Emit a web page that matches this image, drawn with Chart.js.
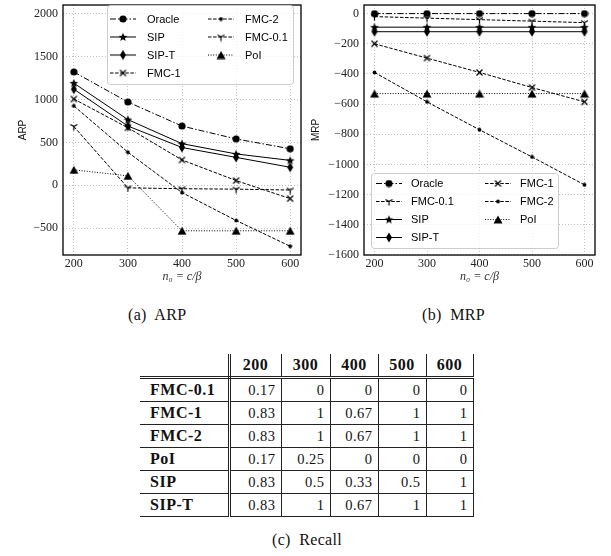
<!DOCTYPE html>
<html>
<head>
<meta charset="utf-8">
<script src="https://cdn.jsdelivr.net/npm/chart.js@4.4.1/dist/chart.umd.min.js"></script>
<style>
  body { margin: 0; background: #fff; width: 611px; height: 556px; position: relative; overflow: hidden; }
  .wrap { position: absolute; top: 0; height: 285px; }
  #wrapA { left: 0; width: 306px; }
  #wrapB { left: 300px; width: 300px; }
  .cap { position: absolute; font: 16px "Liberation Serif", serif; color: #111; white-space: pre; letter-spacing: 0.3px; }
  #recall { position: absolute; left: 140px; top: 354px; border-collapse: collapse; font-family: "Liberation Serif", serif; color: #111; }
  #recall th { font-size: 16px; font-weight: bold; text-align: center; height: 22px; padding: 0; letter-spacing: 0.5px;
               border-right: 1px solid #222; border-bottom: 3px double #222; }
  #recall td { font-size: 14.5px; text-align: right; height: 22px; padding: 0 5px 0 0; letter-spacing: 0.5px;
               border-right: 1px solid #222; border-bottom: 1px solid #222; }
  #recall td.name { font-size: 16px; font-weight: bold; text-align: left; padding-left: 10px; }
  #recall .first { border-right: 3px double #222; }
</style>
</head>
<body>
<div class="wrap" id="wrapA"><canvas id="arpChart"></canvas></div>
<div class="wrap" id="wrapB"><canvas id="mrpChart"></canvas></div>
<div class="cap" style="left:128px; top:306px;">(a)  ARP</div>
<div class="cap" style="left:422px; top:306px;">(b)  MRP</div>
<table id="recall"></table>
<div class="cap" style="left:272px; top:531px;">(c)  Recall</div>
<script>
// n0 = c / beta
const nValues = [200, 300, 400, 500, 600];

// ARP
const arpOracle = [1320, 970, 690, 540, 425];
const arpSip = [1190, 765, 485, 365, 290];
const arpSipT = [1120, 690, 440, 325, 210];
const arpFmc1 = [1005, 670, 295, 55, -155];
const arpFmc2 = [925, 385, -85, -410, -710];
const arpFmc01 = [685, -30, -40, -45, -55];
const arpPoi = [180, 110, -530, -530, -530];
const arpTicks = [-500, 0, 500, 1000, 1500, 2000];

// MRP
const mrpOracle = [0, 0, 0, 0, 0];
const mrpFmc01 = [-20, -30, -40, -50, -60];
const mrpSip = [-90, -90, -90, -90, -90];
const mrpSipT = [-120, -120, -120, -120, -120];
const mrpFmc1 = [-200, -295, -390, -490, -585];
const mrpFmc2 = [-390, -585, -770, -950, -1135];
const mrpPoi = [-530, -530, -530, -530, -530];
const mrpTicks = [-1600, -1400, -1200, -1000, -800, -600, -400, -200, 0];

// recall table
const recallCols = ['200', '300', '400', '500', '600'];
const recallRows = ['FMC-0.1', 'FMC-1', 'FMC-2', 'PoI', 'SIP', 'SIP-T'];
const recallValues = [
  [0.17, 0, 0, 0, 0],
  [0.83, 1, 0.67, 1, 1],
  [0.83, 1, 0.67, 1, 1],
  [0.17, 0.25, 0, 0, 0],
  [0.83, 0.5, 0.33, 0.5, 1],
  [0.83, 1, 0.67, 1, 1],
];

// marker images (matplotlib style)
function mk(w, h, draw) {
  const c = document.createElement('canvas');
  c.width = w; c.height = h;
  const g = c.getContext('2d');
  g.fillStyle = '#000'; g.strokeStyle = '#000'; g.lineWidth = 1;
  draw(g, w / 2, h / 2);
  return c;
}
const mCircle = mk(8, 8, (g, cx, cy) => { g.beginPath(); g.arc(cx, cy, 3.6, 0, Math.PI * 2); g.fill(); });
const mStar = mk(10, 10, (g, cx, cy) => {
  g.beginPath();
  for (let i = 0; i < 10; i++) {
    const r = i % 2 ? 2 : 4.6, a = -Math.PI / 2 + i * Math.PI / 5;
    g.lineTo(cx + r * Math.cos(a), cy + 0.3 + r * Math.sin(a));
  }
  g.closePath(); g.fill();
});
const mDiamond = mk(8, 11, (g, cx, cy) => {
  g.beginPath(); g.moveTo(cx, 0.5); g.lineTo(7, cy); g.lineTo(cx, 10.5); g.lineTo(1, cy); g.closePath(); g.fill();
});
const mX = mk(9, 9, (g) => {
  g.lineWidth = 1.2; g.beginPath(); g.moveTo(1.5, 1.5); g.lineTo(7.5, 7.5); g.moveTo(7.5, 1.5); g.lineTo(1.5, 7.5); g.stroke();
});
const mDot = mk(5, 5, (g, cx, cy) => { g.beginPath(); g.arc(cx, cy, 1.9, 0, Math.PI * 2); g.fill(); });
const mTri1 = mk(9, 9, (g, cx, cy) => {
  g.lineWidth = 1.2;
  g.beginPath(); g.moveTo(cx, cy); g.lineTo(cx, cy + 4); g.moveTo(cx, cy); g.lineTo(cx - 3.5, cy - 2);
  g.moveTo(cx, cy); g.lineTo(cx + 3.5, cy - 2); g.stroke();
});
const mTriangle = mk(10, 9, (g) => {
  g.beginPath(); g.moveTo(5, 0.5); g.lineTo(9.5, 8.5); g.lineTo(0.5, 8.5); g.closePath(); g.fill();
});

const styles = {
  'Oracle':  { pointStyle: mCircle, borderDash: [6, 2, 1.5, 2] },
  'SIP':     { pointStyle: mStar, borderDash: [] },
  'SIP-T':   { pointStyle: mDiamond, borderDash: [] },
  'FMC-1':   { pointStyle: mX, borderDash: [3.5, 1.6] },
  'FMC-2':   { pointStyle: mDot, borderDash: [3.5, 1.6] },
  'FMC-0.1': { pointStyle: mTri1, borderDash: [3.5, 1.6] },
  'PoI':     { pointStyle: mTriangle, borderDash: [1, 1.6] },
};

function series(label, ys) {
  return Object.assign({
    label: label,
    data: nValues.map((x, i) => ({ x: x, y: ys[i] })),
    borderColor: '#000',
    backgroundColor: '#000',
    borderWidth: 1,
    tension: 0,
  }, styles[label]);
}

function minus(v) { return v < 0 ? '\u2212' + Math.abs(v) : String(v); }

// frame + box legend drawn inside the plot, two columns like matplotlib
const boxLegend = {
  id: 'boxLegend',
  afterDatasetsDraw(chart) {
    const a = chart.chartArea, ctx = chart.ctx;
    ctx.save();
    ctx.strokeStyle = '#000';
    ctx.lineWidth = 1.3;
    ctx.strokeRect(a.left, a.top, a.right - a.left, a.bottom - a.top);
    ctx.restore();
  },
  afterDraw(chart, args, opts) {
    const ctx = chart.ctx;
    const b = opts.box;
    ctx.save();
    ctx.beginPath();
    ctx.roundRect(b.x + 0.5, b.y + 0.5, b.w, b.h, 3);
    ctx.fillStyle = 'rgba(255,255,255,0.8)';
    ctx.fill();
    ctx.strokeStyle = '#cccccc';
    ctx.lineWidth = 1;
    ctx.stroke();
    opts.items.forEach((label, k) => {
      const ds = chart.data.datasets.find(d => d.label === label);
      const col = Math.floor(k / opts.rows), row = k % opts.rows;
      const hx = opts.cols[col], y = opts.y0 + row * opts.dy;
      ctx.beginPath();
      ctx.setLineDash(ds.borderDash);
      ctx.lineWidth = 1;
      ctx.strokeStyle = '#000';
      ctx.moveTo(hx, y);
      ctx.lineTo(hx + opts.hw, y);
      ctx.stroke();
      ctx.setLineDash([]);
      Chart.helpers.drawPoint(ctx, { pointStyle: ds.pointStyle, radius: 3, rotation: 0, borderWidth: 0 }, hx + opts.hw / 2, y);
      ctx.fillStyle = '#000';
      ctx.font = '11px "Liberation Sans"';
      ctx.textBaseline = 'middle';
      ctx.fillText(label, hx + opts.tx, y + 0.5);
    });
    ctx.restore();
  }
};

function makeConfig(datasets, yMin, yMax, yTicks, yTitle, yWidth, padLeft, legend) {
  return {
    type: 'line',
    data: { datasets: datasets },
    plugins: [boxLegend],
    options: {
      responsive: true,
      maintainAspectRatio: false,
      animation: false,
      events: [],
      layout: { padding: { left: padLeft, top: 2, right: 4, bottom: 0 } },
      plugins: { legend: { display: false }, tooltip: { enabled: false }, boxLegend: legend },
      scales: {
        x: {
          type: 'linear', min: 180, max: 620,
          afterBuildTicks: s => { s.ticks = nValues.map(v => ({ value: v })); },
          afterFit: s => { s.height = 30; s.paddingLeft = 0; s.paddingRight = 0; },
          grid: { color: '#b0b0b0', lineWidth: 0.8, drawTicks: false },
          border: { display: false, dash: [1, 2] },
          ticks: { padding: 2, color: '#222', font: { family: 'Liberation Serif', size: 12 } },
          title: { display: true, text: 'n\u2080 = c/\u03b2', color: '#333', padding: { top: 0, bottom: 1 },
                   font: { family: 'Liberation Serif', size: 12, style: 'italic' } },
        },
        y: {
          min: yMin, max: yMax,
          afterBuildTicks: s => { s.ticks = yTicks.map(v => ({ value: v })); },
          afterFit: s => { s.width = yWidth; s.paddingTop = 0; s.paddingBottom = 0; },
          grid: { color: '#b0b0b0', lineWidth: 0.8, drawTicks: false },
          border: { display: false, dash: [1, 2] },
          ticks: { padding: 5, color: '#222', font: { family: 'Liberation Serif', size: 12 }, callback: v => minus(v) },
          title: { display: true, text: yTitle, color: '#111', padding: { top: 4, bottom: 4 },
                   font: { family: 'Liberation Sans', size: 10 } },
        },
      },
    },
  };
}

new Chart(document.getElementById('arpChart'), makeConfig(
  [series('Oracle', arpOracle), series('SIP', arpSip), series('SIP-T', arpSipT), series('FMC-1', arpFmc1),
   series('FMC-2', arpFmc2), series('FMC-0.1', arpFmc01), series('PoI', arpPoi)],
  -812, 2100, arpTicks, 'ARP', 50, 13,
  { box: { x: 107, y: 5, w: 186, h: 79 }, rows: 4, y0: 19, dy: 18, cols: [110, 208], hw: 26, tx: 37,
    items: ['Oracle', 'SIP', 'SIP-T', 'FMC-1', 'FMC-2', 'FMC-0.1', 'PoI'] }
));

new Chart(document.getElementById('mrpChart'), makeConfig(
  [series('Oracle', mrpOracle), series('FMC-0.1', mrpFmc01), series('SIP', mrpSip), series('SIP-T', mrpSipT),
   series('FMC-1', mrpFmc1), series('FMC-2', mrpFmc2), series('PoI', mrpPoi)],
  -1600, 57, mrpTicks, 'MRP', 58, 6,
  { box: { x: 71, y: 173, w: 187, h: 75 }, rows: 4, y0: 183.5, dy: 18, cols: [76, 185], hw: 26, tx: 35,
    items: ['Oracle', 'FMC-0.1', 'SIP', 'SIP-T', 'FMC-1', 'FMC-2', 'PoI'] }
));

// recall table
const tbl = document.getElementById('recall');
const colW = [89, 52, 49, 48, 48, 47];
const cg = document.createElement('colgroup');
colW.forEach(w => { const c = document.createElement('col'); c.style.width = w + 'px'; cg.appendChild(c); });
tbl.appendChild(cg);
const head = tbl.insertRow();
const h0 = document.createElement('th'); h0.className = 'first'; head.appendChild(h0);
recallCols.forEach(t => { const th = document.createElement('th'); th.textContent = t; head.appendChild(th); });
recallRows.forEach((name, r) => {
  const tr = tbl.insertRow();
  const c0 = tr.insertCell(); c0.className = 'name first'; c0.textContent = name;
  recallValues[r].forEach(v => { tr.insertCell().textContent = String(v); });
});
</script>
</body>
</html>
